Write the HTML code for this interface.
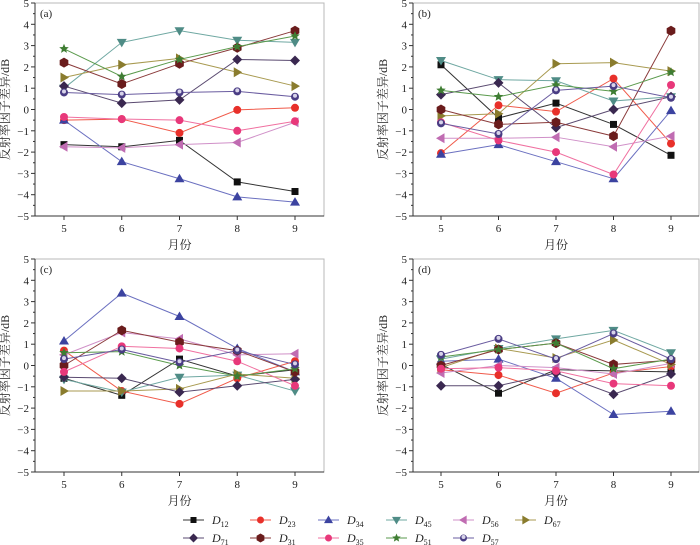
<!DOCTYPE html>
<html><head><meta charset="utf-8">
<style>
html,body{margin:0;padding:0;background:#fff;}
svg{display:block;font-family:"Liberation Serif","Noto Serif CJK SC",serif;}
</style></head>
<body>
<svg id="chart" width="700" height="545" viewBox="0 0 700 545" xmlns="http://www.w3.org/2000/svg"></svg>
<script>
const months = [5, 6, 7, 8, 9];
const seriesNames = ["D12","D23","D34","D45","D56","D67","D71","D31","D35","D51","D57"];
const panelA = [
 [-1.65,-1.75,-1.45,-3.4,-3.85],
 [-0.5,-0.45,-1.1,-0.02,0.08],
 [-0.5,-2.45,-3.25,-4.1,-4.35],
 [1.0,3.15,3.7,3.25,3.15],
 [-1.75,-1.8,-1.65,-1.55,-0.6],
 [1.5,2.1,2.4,1.75,1.1],
 [1.1,0.3,0.45,2.35,2.3],
 [2.2,1.2,2.15,2.9,3.7],
 [-0.35,-0.45,-0.5,-1.0,-0.55],
 [2.85,1.55,2.35,2.95,3.45],
 [0.8,0.7,0.8,0.85,0.6]
];
const panelB = [
 [2.1,-0.4,0.3,-0.7,-2.15],
 [-2.05,0.2,-0.1,1.45,-1.6],
 [-2.1,-1.65,-2.45,-3.25,-0.05],
 [2.3,1.4,1.35,0.4,0.6],
 [-1.35,-1.35,-1.3,-1.75,-1.25],
 [-0.3,-0.2,2.15,2.2,1.8],
 [0.7,1.25,-0.85,0.0,0.6],
 [0.0,-0.7,-0.6,-1.25,3.7],
 [-0.6,-1.45,-2.0,-3.05,1.15],
 [0.9,0.6,1.15,0.85,1.75],
 [-0.65,-1.15,0.9,1.1,0.55]
];
const panelC = [
 [-0.6,-1.4,0.3,-0.5,-0.2],
 [0.7,-1.2,-1.8,-0.6,0.2],
 [1.15,3.4,2.3,0.8,-0.3],
 [-0.65,-1.25,-0.55,-0.45,-1.2],
 [0.5,1.55,1.25,0.5,0.55],
 [-1.2,-1.2,-1.1,-0.4,-0.6],
 [-0.55,-0.6,-1.25,-0.95,-0.65],
 [0.0,1.65,1.1,0.7,-0.3],
 [-0.3,0.9,0.8,0.2,-0.95],
 [0.6,0.65,0.0,-0.5,-0.15],
 [0.3,0.75,0.15,0.7,0.05]
];
const panelD = [
 [0.05,-1.3,-0.2,-0.25,-0.3],
 [-0.2,-0.45,-1.3,-0.35,-0.05],
 [0.2,0.3,-0.6,-2.3,-2.15],
 [0.3,0.8,1.25,1.65,0.6],
 [-0.35,0.0,-0.1,-0.4,0.1],
 [-0.1,0.8,0.35,1.2,0.05],
 [-0.95,-0.95,-0.35,-1.35,-0.4],
 [0.0,0.75,1.05,0.05,0.25],
 [-0.15,-0.1,-0.25,-0.85,-0.95],
 [0.4,0.75,1.05,-0.15,0.3],
 [0.5,1.25,0.3,1.5,0.3]
];
const yTicks = [-5,-4,-3,-2,-1,0,1,2,3,4,5];

const colors = ["#111111","#e8302a","#3c43a0","#4f8c86","#c06cb2","#8a7c2e","#3a2850","#6a1c1c","#e8387a","#3f7d33","#4a3d84"];
const lineColors = ["#333333","#f05a4a","#6b70c0","#6fa8a2","#d090c8","#a89a50","#5a4a70","#8a3a3a","#f070a0","#5a9a4c","#6a5ca0"];
const shapes = ["square","circle","triUp","triDown","triLeft","triRight","diamond","pentagon","circle","star","ballCircle"];

const svg = document.getElementById('chart');
const NS = "http://www.w3.org/2000/svg";
function mk(tag, attrs, parent){ const e=document.createElementNS(NS,tag); for(const k in attrs) e.setAttribute(k,attrs[k]); (parent||svg).appendChild(e); return e; }

function marker(g, shape, cx, cy, color, r){
  let e;
  if(shape==="square") e=mk('rect',{x:cx-r,y:cy-r,width:2*r,height:2*r,fill:color},g);
  else if(shape==="circle") e=mk('circle',{cx:cx,cy:cy,r:r+0.5,fill:color},g);
  else if(shape==="ballCircle"){ e=mk('circle',{cx:cx,cy:cy,r:r+0.5,fill:color},g); mk('circle',{cx:cx,cy:cy-1,r:2,fill:"#d8d4ea"},g); }
  else {
    let pts=[];
    const R=r+1.5;
    if(shape==="triUp") pts=[[0,-R],[R,R*0.7],[-R,R*0.7]];
    else if(shape==="triDown") pts=[[0,R],[R,-R*0.7],[-R,-R*0.7]];
    else if(shape==="triLeft") pts=[[-R,0],[R*0.7,-R],[R*0.7,R]];
    else if(shape==="triRight") pts=[[R,0],[-R*0.7,-R],[-R*0.7,R]];
    else if(shape==="diamond") pts=[[0,-R],[R,0],[0,R],[-R,0]];
    else if(shape==="pentagon"){ for(let i=0;i<6;i++){const a=Math.PI/3*i+Math.PI/6; pts.push([R*Math.cos(a),R*Math.sin(a)]);} }
    else if(shape==="star"){ for(let i=0;i<10;i++){const a=-Math.PI/2+Math.PI/5*i; const rr=i%2?R*0.45:R; pts.push([rr*Math.cos(a),rr*Math.sin(a)]);} }
    e=mk('polygon',{points:pts.map(p=>(cx+p[0])+","+(cy+p[1])).join(" "),fill:color},g);
  }
  return e;
}

const panels = [
 {data:panelA,label:"(a)",left:35,right:324,top:3,bottom:216,x5:64,x9:295,name:"panel-a"},
 {data:panelB,label:"(b)",left:413,right:699,top:3,bottom:216,x5:441,x9:671,name:"panel-b"},
 {data:panelC,label:"(c)",left:35,right:324,top:259,bottom:472,x5:64,x9:295,name:"panel-c"},
 {data:panelD,label:"(d)",left:413,right:699,top:259,bottom:472,x5:441,x9:671,name:"panel-d"}
];

panels.forEach(p=>{
  const g=mk('g',{});
  
  
  const xs=m=>p.x5+(m-5)*(p.x9-p.x5)/4;
  const ys=v=>p.bottom-(v+5)*(p.bottom-p.top)/10;
  mk('rect',{x:p.left,y:p.top,width:p.right-p.left,height:p.bottom-p.top,fill:"none",stroke:"#b8b8b8","stroke-width":1},g);
  mk('line',{x1:p.left,y1:p.top,x2:p.left,y2:p.bottom,stroke:"#333","stroke-width":1},g);
  mk('line',{x1:p.left,y1:p.bottom,x2:p.right,y2:p.bottom,stroke:"#333","stroke-width":1},g);
  yTicks.forEach(t=>{
    const y=ys(t);
    mk('line',{x1:p.left-4,y1:y,x2:p.left,y2:y,stroke:"#333"},g);
    if(t<5) mk('line',{x1:p.left-2,y1:ys(t+0.5),x2:p.left,y2:ys(t+0.5),stroke:"#333"},g);
    const tx=mk('text',{x:p.left-6,y:y+4,"text-anchor":"end","font-size":11,fill:"#222"},g);
    tx.textContent=(t<0?"\u2212"+(-t):String(t));
    
    
  });
  months.forEach(m=>{
    const x=xs(m);
    mk('line',{x1:x,y1:p.bottom,x2:x,y2:p.bottom+4,stroke:"#333"},g);
    const tx=mk('text',{x:x,y:p.bottom+16,"text-anchor":"middle","font-size":11,fill:"#222"},g);
    tx.textContent=String(m);
    
    
  });
  const xt=mk('text',{x:(p.left+p.right)/2,y:p.bottom+33,"text-anchor":"middle","font-size":12,fill:"#222"},g);
  xt.textContent="月份";
  
  
  const cy=(p.top+p.bottom)/2, cx=p.left-26;
  const yt=mk('text',{x:cx,y:cy,"text-anchor":"middle","font-size":12,fill:"#222",transform:`rotate(-90 ${cx} ${cy})`},g);
  yt.textContent="反射率因子差异/dB";
  
  
  const pl=mk('text',{x:p.left+5,y:p.top+14,"font-size":11,fill:"#222"},g);
  pl.textContent=p.label;
  
  
  p.data.forEach((vals,si)=>{
    const sg=mk('g',{},g);
    
    
    const pts=vals.map((v,i)=>xs(months[i])+","+ys(v)).join(" ");
    mk('polyline',{points:pts,fill:"none",stroke:lineColors[si],"stroke-width":1},sg);
    vals.forEach((v,i)=>{
      const mkr=marker(sg,shapes[si],xs(months[i]),ys(v),colors[si],3.5);
      
      
    });
  });
});

// legend
const legX=[185,252,320,388,455,517];
const legRowY=[520,538];
const lg=mk('g',{});


seriesNames.forEach((n,i)=>{
  const row=i<6?0:1, col=i<6?i:i-6;
  const x=legX[col], y=legRowY[row];
  const eg=mk('g',{},lg);
  
  
  mk('line',{x1:x-2,y1:y,x2:x+19,y2:y,stroke:lineColors[i],"stroke-width":1},eg);
  marker(eg,shapes[i],x+8.5,y,colors[i],3);
  const t=mk('text',{x:x+27,y:y+4,"font-size":12,fill:"#222","font-style":"italic"},eg);
  t.textContent="D";
  const s=mk('tspan',{"font-size":8,"font-style":"normal",dy:3},t);
  s.textContent=n.slice(1);
});
</script>
</body></html>
